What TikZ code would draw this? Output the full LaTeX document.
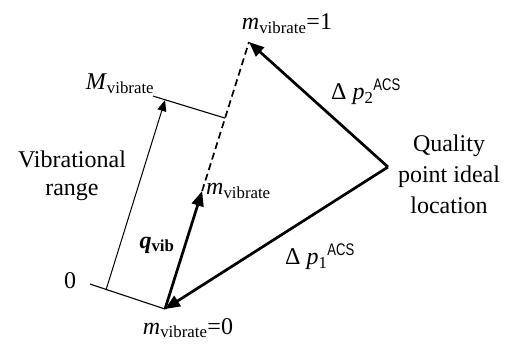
\documentclass[tikz,border=0pt]{standalone}
\usepackage{fontspec}
\setmainfont{Liberation Serif}
\newfontfamily\acsfont[FakeStretch=0.78]{Liberation Sans}
\usetikzlibrary{arrows.meta,calc}
\newcommand{\mvib}{\textit{m}\textsubscript{vibrate}}
\newcommand{\Mvib}{\textit{M}\textsubscript{vibrate}}
\newcommand{\dpacs}[1]{Δ \textit{p}\textsubscript{#1}\textsuperscript{\acsfont ACS}}

\begin{document}
\begin{tikzpicture}[x=1pt, y=-1pt,
  lbl/.style={font=\fontsize{24}{28}\selectfont, inner sep=0pt},
  vec/.style={line width=2.7pt, -{Triangle[length=15pt,width=12pt]}},
  thinvec/.style={line width=1pt, -{Triangle[length=11pt,width=9pt]}}]
  \useasboundingbox (0,0) rectangle (513,345);

  % ── Key points ──
  \coordinate (base) at (165,309);
  \coordinate (top) at (249,42);
  \coordinate (ideal) at (388,167);
  \coordinate (mid) at ($(base)!0.442!(top)$);
  \coordinate (barR) at ($(base)!0.715!(top)$);
  \coordinate (barL) at ($(barR)+(-72,-22)$);
  \coordinate (zeroL) at ($(base)+(-75,-25)$);
  \coordinate (rngA) at ($(base)+(-59,-19)$);
  \coordinate (rngB) at ($(barR)+(-60,-18)$);

  % ── Vibrational range (thin) ──
  \draw[line width=1.1pt] (zeroL) -- (base);
  \draw[line width=1.1pt] (barL) -- (barR);
  \draw[thinvec] (rngA) -- (rngB);

  % ── Vectors ──
  \draw[line width=1.7pt, dash pattern=on 7pt off 4pt] (mid) -- (top);
  \draw[vec] (base) -- (mid);
  \draw[vec] (ideal) -- (top);
  \draw[vec] (ideal) -- (base);

  % ── Labels ──
  \node[lbl] (Mlab) at (120,84) {\Mvib};
  \node[lbl, align=center] (range) at (72,176) {Vibrational\\range};
  \node[lbl] (zero) at (70,281) {0};
  \node[lbl] (qlab) at (157,245) {\textbf{\textit{q}}\textsubscript{\textbf{vib}}};
  \node[lbl, anchor=west] (midlab) at (206,191) {\mvib};
  \node[lbl] (m0) at (188,328) {\mvib=0};
  \node[lbl] (m1) at (287,24) {\mvib=1};
  \node[lbl] (dp2) at (366,92) {\dpacs{2}};
  \node[lbl, align=center, font=\fontsize{24}{31}\selectfont] (qual) at (449,174) {Quality\\point ideal\\location};
  \node[lbl] (dp1) at (320,257) {\dpacs{1}};
\end{tikzpicture}
\end{document}
